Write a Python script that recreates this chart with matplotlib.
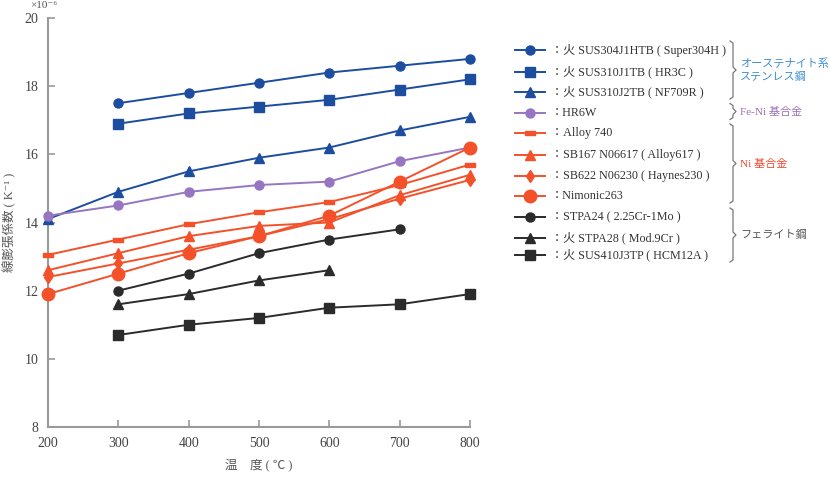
import matplotlib
matplotlib.use("Agg")
from matplotlib import pyplot as plt

plt.rcParams['font.family'] = ['Liberation Serif', 'Noto Sans CJK JP',
                               'DejaVu Sans']

# %% Data (thermal expansion coefficient, x10^-6 /K)
temps = [200, 300, 400, 500, 600, 700, 800]
super304h = [None, 17.5, 17.8, 18.1, 18.4, 18.6, 18.8]
hr3c = [None, 16.9, 17.2, 17.4, 17.6, 17.9, 18.2]
nf709r = [14.1, 14.9, 15.5, 15.9, 16.2, 16.7, 17.1]
hr6w = [14.2, 14.5, 14.9, 15.1, 15.2, 15.8, 16.2]
alloy740 = [13.05, 13.5, 13.95, 14.3, 14.6, 15.1, 15.7]
alloy617 = [12.6, 13.1, 13.6, 13.9, 14.0, 14.8, 15.4]
haynes230 = [12.4, 12.8, 13.2, 13.6, 14.1, 14.7, 15.25]
nimonic263 = [11.9, 12.5, 13.1, 13.6, 14.2, 15.2, 16.2]
stpa24 = [None, 12.0, 12.5, 13.1, 13.5, 13.8, None]
stpa28 = [None, 11.6, 11.9, 12.3, 12.6, None, None]
hcm12a = [None, 10.7, 11.0, 11.2, 11.5, 11.6, 11.9]

labels = ["：火 SUS304J1HTB ( Super304H )", "：火 SUS310J1TB ( HR3C )",
          "：火 SUS310J2TB ( NF709R )", "：HR6W", "：Alloy 740",
          "：SB167 N06617 ( Alloy617 )", "：SB622 N06230 ( Haynes230 )",
          "：Nimonic263", "：STPA24 ( 2.25Cr-1Mo )", "：火 STPA28 ( Mod.9Cr )",
          "：火 SUS410J3TP ( HCM12A )"]
groups = [("オーステナイト系\nステンレス鋼", 0, 2), ("Fe-Ni 基合金", 3, 3),
          ("Ni 基合金", 4, 7), ("フェライト鋼", 8, 10)]

# %% Styles
blue, purple, red, black = '#1c4d9f', '#9676c2', '#f4512b', '#2b2b2b'
bar = [(-1, -0.38), (1, -0.38), (1, 0.38), (-1, 0.38), (-1, -0.38)]
series = [super304h, hr3c, nf709r, hr6w, alloy740, alloy617, haynes230,
          nimonic263, stpa24, stpa28, hcm12a]
styles = [(blue, 'o', 6.5), (blue, 's', 6.5), (blue, '^', 6.5),
          (purple, 'o', 6.5), (red, bar, 7), (red, '^', 6.5), (red, 'd', 6),
          (red, 'o', 9), (black, 'o', 6.5), (black, '^', 6.5),
          (black, 's', 6.5)]
group_colors = ['#3d8fd1', '#9a6fb8', '#f0462b', '#555555']

# %% Figure
fig = plt.figure(figsize=(8.3, 4.91), dpi=100)
ax = fig.add_axes([48/830, 64/491, 422/830, 409/491])
for ys, (c, m, s) in zip(series, styles):
    xs = [t for t, v in zip(temps, ys) if v is not None]
    vs = [v for v in ys if v is not None]
    ax.plot(xs, vs, color=c, marker=m, markersize=s, lw=1.4, clip_on=False,
            zorder=3)
ax.set_xlim(200, 800)
ax.set_ylim(8, 20)
ax.set_xticks(temps)
ax.set_yticks(range(8, 21, 2))
for side in ['top', 'right']:
    ax.spines[side].set_visible(False)
for side in ['left', 'bottom']:
    ax.spines[side].set_color('#999999')
    ax.spines[side].set_linewidth(1.5)
ax.tick_params(direction='in', length=5, width=1.2, color='#999999',
               labelsize=10, labelcolor='#444444', pad=7)
ax.set_xlabel("温　度 ( ℃ )", fontsize=9, color='#555555', labelpad=7)
ax.set_ylabel("線膨張係数 ( K⁻¹ )", fontsize=9, color='#555555')
ax.yaxis.set_label_coords(-0.075, 0.5)
fig.text(44/830, 1 - 5/491, "×10⁻⁶", fontsize=8, color='#555555',
         ha='center', va='center')

# %% Legend drawn on an overlay in pixel coordinates
lg = fig.add_axes([0, 0, 1, 1])
lg.set_xlim(0, 830)
lg.set_ylim(491, 0)
lg.set_axis_off()
row_y = [50, 71.5, 92, 112.5, 133, 155, 175.5, 196, 217, 237.5, 255]
for y, (c, m, s), lab in zip(row_y, styles, labels):
    lg.plot([515, 545], [y, y], color=c, lw=1.4)
    lg.plot([530], [y], color=c, marker=m, markersize=s)
    lg.text(551, y, lab, fontsize=8.7, color='#333333', va='center')
for (name, i0, i1), gc in zip(groups, group_colors):
    top, bot = row_y[i0] - 9, row_y[i1] + 7
    mid = (top + bot) / 2
    lg.plot([730, 733, 733, 736, 733, 733, 730],
            [top, top + 2, mid - 3, mid, mid + 3, bot - 2, bot],
            color='#777777', lw=0.9)
    lg.text(740, mid, name, fontsize=8, color=gc, va='center',
            linespacing=1.35)

fig.savefig("out.png", dpi=100)
